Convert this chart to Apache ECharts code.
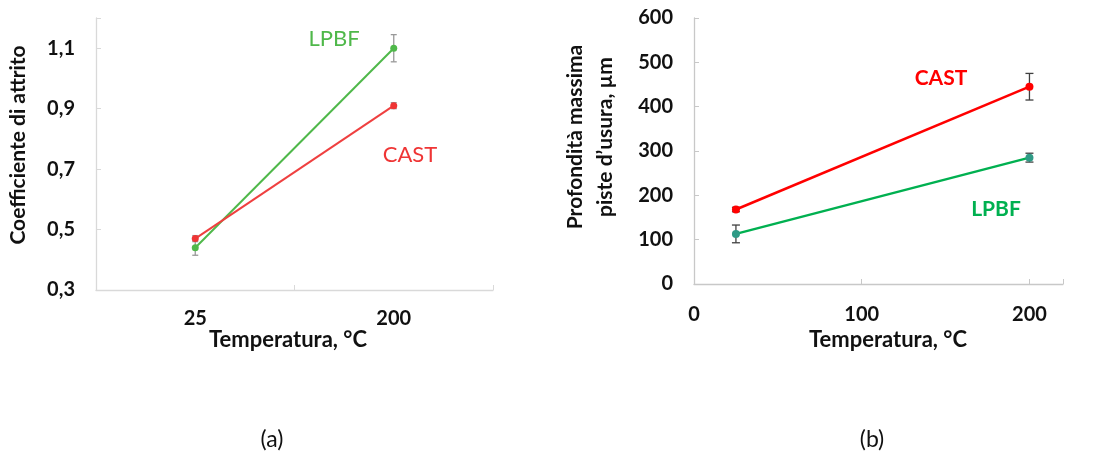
<!DOCTYPE html>
<html>
<head>
<meta charset="utf-8">
<script src="https://cdn.jsdelivr.net/npm/echarts@6/dist/echarts.min.js"></script>
<style>
html,body{margin:0;padding:0;background:#fff;}
#c{width:1113px;height:452px;}
</style>
</head>
<body>
<div id="c"></div>
<script>
// ---- Data (a): friction coefficient ----
const catsA = ['25', '200'];
const castA = [0.47, 0.91];
const castAErr = [0.01, 0.01];
const lpbfA = [0.44, 1.10];
const lpbfAErr = [0.025, 0.045];
const yTicksA = [0.3, 0.5, 0.7, 0.9, 1.1];

// ---- Data (b): max wear depth ----
const tempsB = [25, 200];
const castB = [168, 445];
const castBErr = [5, 30];
const lpbfB = [113, 285];
const lpbfBErr = [20, 10];
const xTicksB = [0, 100, 200];
const yTicksB = [0, 100, 200, 300, 400, 500, 600];

const FONT = 'Lato';
const chart = echarts.init(document.getElementById('c'));

function errItem(color, cap) {
  return function (params, api) {
    const x = api.value(0);
    const lo = api.coord([x, api.value(1)]);
    const hi = api.coord([x, api.value(2)]);
    const style = { stroke: color, lineWidth: 1.3 };
    return {
      type: 'group',
      children: [
        { type: 'line', shape: { x1: lo[0], y1: lo[1], x2: hi[0], y2: hi[1] }, style },
        { type: 'line', shape: { x1: lo[0] - cap, y1: lo[1], x2: lo[0] + cap, y2: lo[1] }, style },
        { type: 'line', shape: { x1: hi[0] - cap, y1: hi[1], x2: hi[0] + cap, y2: hi[1] }, style }
      ]
    };
  };
}

const errA = (vals, errs) => vals.map((v, i) => [i, v - errs[i], v + errs[i]]);
const errB = (vals, errs) => vals.map((v, i) => [tempsB[i], v - errs[i], v + errs[i]]);

function isTick(v, list) { return list.some(t => Math.abs(t - v) < 1e-6); }

const axisLbl = { fontFamily: FONT, fontWeight: 'bold', fontSize: 20, color: '#111' };

const option = {
  animation: false,
  grid: [
    { left: 96, right: 620, top: 18, bottom: 162 },
    { left: 694, right: 50, top: 18, bottom: 168 }
  ],
  xAxis: [
    {
      gridIndex: 0, type: 'category', data: catsA, boundaryGap: true,
      axisLine: { lineStyle: { color: '#d9d9d9', width: 1.3 } },
      axisTick: { show: true, inside: true, length: 5, lineStyle: { color: '#d9d9d9' } },
      axisLabel: Object.assign({ margin: 19 }, axisLbl),
      splitLine: { show: false }
    },
    {
      gridIndex: 1, type: 'value', min: 0, max: 220, interval: 100,
      axisLine: { show: true, lineStyle: { color: '#c8c8c8', width: 1.3 } },
      axisTick: { show: true, inside: true, length: 5, lineStyle: { color: '#c8c8c8' } },
      axisLabel: Object.assign({ margin: 21, formatter: v => isTick(v, xTicksB) ? String(v) : '' }, axisLbl),
      splitLine: { show: false }
    }
  ],
  yAxis: [
    {
      gridIndex: 0, type: 'value', min: 0.3, max: 1.2, interval: 0.2,
      axisLine: { show: true, lineStyle: { color: '#d9d9d9', width: 1.3 } },
      axisTick: { show: true, inside: true, length: 5, lineStyle: { color: '#d9d9d9' } },
      axisLabel: Object.assign({ margin: 21, formatter: v => isTick(v, yTicksA) ? v.toFixed(1).replace('.', ',') : '' }, axisLbl),
      splitLine: { show: false }
    },
    {
      gridIndex: 1, type: 'value', min: 0, max: 600, interval: 100,
      axisLine: { show: true, lineStyle: { color: '#c8c8c8', width: 1.3 } },
      axisTick: { show: true, inside: true, length: 5, lineStyle: { color: '#c8c8c8' } },
      axisLabel: Object.assign({ margin: 21, formatter: v => isTick(v, yTicksB) ? String(v) : '' }, axisLbl),
      splitLine: { show: false }
    }
  ],
  series: [
    { type: 'custom', xAxisIndex: 0, yAxisIndex: 0, renderItem: errItem('#999999', 3), data: errA(lpbfA, lpbfAErr), z: 1 },
    { type: 'custom', xAxisIndex: 0, yAxisIndex: 0, renderItem: errItem('#999999', 3), data: errA(castA, castAErr), z: 1 },
    { name: 'LPBF', type: 'line', xAxisIndex: 0, yAxisIndex: 0, data: lpbfA, symbol: 'circle', symbolSize: 7,
      lineStyle: { color: '#4fb84a', width: 2 }, itemStyle: { color: '#4fb84a' }, z: 2 },
    { name: 'CAST', type: 'line', xAxisIndex: 0, yAxisIndex: 0, data: castA, symbol: 'circle', symbolSize: 7,
      lineStyle: { color: '#ef4040', width: 2 }, itemStyle: { color: '#ef3535' }, z: 3 },

    { type: 'custom', xAxisIndex: 1, yAxisIndex: 1, renderItem: errItem('#404040', 4), data: errB(castB, castBErr), z: 1 },
    { type: 'custom', xAxisIndex: 1, yAxisIndex: 1, renderItem: errItem('#404040', 4), data: errB(lpbfB, lpbfBErr), z: 1 },
    { name: 'CAST', type: 'line', xAxisIndex: 1, yAxisIndex: 1, data: tempsB.map((t, i) => [t, castB[i]]), symbol: 'circle', symbolSize: 8,
      lineStyle: { color: '#ff0000', width: 2.5 }, itemStyle: { color: '#ff0000' }, z: 2 },
    { name: 'LPBF', type: 'line', xAxisIndex: 1, yAxisIndex: 1, data: tempsB.map((t, i) => [t, lpbfB[i]]), symbol: 'circle', symbolSize: 8,
      lineStyle: { color: '#00b050', width: 2.5 }, itemStyle: { color: '#2f9a86' }, z: 2 }
  ],
  graphic: [
    { type: 'text', x: 18, y: 145, rotation: Math.PI / 2,
      style: { text: 'Coefficiente di attrito', fontFamily: FONT, fontWeight: 'bold', fontSize: 21, fill: '#111', align: 'center', verticalAlign: 'middle' } },
    { type: 'text', x: 288, y: 340,
      style: { text: 'Temperatura, °C', fontFamily: FONT, fontWeight: 'bold', fontSize: 22, fill: '#111', align: 'center', verticalAlign: 'middle' } },
    { type: 'text', x: 334, y: 39,
      style: { text: 'LPBF', fontFamily: FONT, fontSize: 22, fill: '#4fb84a', align: 'center', verticalAlign: 'middle' } },
    { type: 'text', x: 410, y: 155,
      style: { text: 'CAST', fontFamily: FONT, fontSize: 22, fill: '#ef3535', align: 'center', verticalAlign: 'middle' } },

    { type: 'text', x: 575, y: 137, rotation: Math.PI / 2,
      style: { text: 'Profondità massima', fontFamily: FONT, fontWeight: 'bold', fontSize: 21, fill: '#111', align: 'center', verticalAlign: 'middle' } },
    { type: 'text', x: 605, y: 137, rotation: Math.PI / 2,
      style: { text: 'piste d\u2019usura, µm', fontFamily: FONT, fontWeight: 'bold', fontSize: 21, fill: '#111', align: 'center', verticalAlign: 'middle' } },
    { type: 'text', x: 888, y: 340,
      style: { text: 'Temperatura, °C', fontFamily: FONT, fontWeight: 'bold', fontSize: 22, fill: '#111', align: 'center', verticalAlign: 'middle' } },
    { type: 'text', x: 941, y: 78,
      style: { text: 'CAST', fontFamily: FONT, fontWeight: 'bold', fontSize: 21, fill: '#ff0000', align: 'center', verticalAlign: 'middle' } },
    { type: 'text', x: 996, y: 209,
      style: { text: 'LPBF', fontFamily: FONT, fontWeight: 'bold', fontSize: 21, fill: '#00b050', align: 'center', verticalAlign: 'middle' } },

    { type: 'text', x: 272, y: 440,
      style: { text: '(a)', fontFamily: FONT, fontSize: 23, fill: '#111', align: 'center', verticalAlign: 'middle' } },
    { type: 'text', x: 872, y: 440,
      style: { text: '(b)', fontFamily: FONT, fontSize: 23, fill: '#111', align: 'center', verticalAlign: 'middle' } }
  ]
};
chart.setOption(option);
</script>
</body>
</html>
